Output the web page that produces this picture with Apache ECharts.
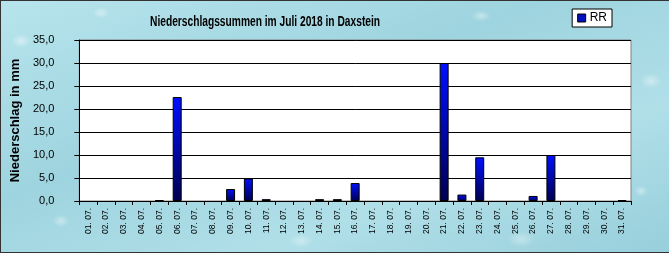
<!DOCTYPE html>
<html><head><meta charset="utf-8">
<script src="https://cdn.jsdelivr.net/npm/echarts@6/dist/echarts.min.js"></script>
<style>
html,body{margin:0;padding:0;}
#c{width:669px;height:253px;box-sizing:border-box;border-left:1px solid #333;border-top:1px solid #333;border-bottom:1px solid #333;
background-color:#a6d9e3;
background-image:
radial-gradient(ellipse 14px 10px at 20px 40px, rgba(255,255,255,0.45), rgba(255,255,255,0) 70%),
radial-gradient(ellipse 12px 9px at 60px 220px, rgba(255,255,255,0.4), rgba(255,255,255,0) 70%),
radial-gradient(ellipse 16px 11px at 650px 80px, rgba(255,255,255,0.4), rgba(255,255,255,0) 70%),
radial-gradient(ellipse 10px 8px at 640px 190px, rgba(255,255,255,0.4), rgba(255,255,255,0) 70%),
radial-gradient(ellipse 18px 10px at 300px 240px, rgba(255,255,255,0.35), rgba(255,255,255,0) 70%),
radial-gradient(ellipse 14px 8px at 480px 15px, rgba(255,255,255,0.4), rgba(255,255,255,0) 70%),
radial-gradient(ellipse 12px 8px at 100px 12px, rgba(255,255,255,0.4), rgba(255,255,255,0) 70%),
radial-gradient(ellipse 20px 12px at 520px 238px, rgba(255,255,255,0.35), rgba(255,255,255,0) 70%),
linear-gradient(160deg, #b7e4ec 0%, #9ed4df 40%, #b0dfe8 70%, #97cfdb 100%);
}
</style></head>
<body><div id="c"></div>
<script>
const categories = ["01. 07.","02. 07.","03. 07.","04. 07.","05. 07.","06. 07.","07. 07.","08. 07.","09. 07.","10. 07.","11. 07.","12. 07.","13. 07.","14. 07.","15. 07.","16. 07.","17. 07.","18. 07.","19. 07.","20. 07.","21. 07.","22. 07.","23. 07.","24. 07.","25. 07.","26. 07.","27. 07.","28. 07.","29. 07.","30. 07.","31. 07."];
const rr = [0,0,0,0,0.2,22.6,0,0,2.6,4.9,0.4,0,0,0.4,0.4,3.9,0,0,0,0,30.0,1.4,9.5,0,0,1.1,10.0,0,0,0,0.2];
const seriesName = "RR";
const titleText = "Niederschlagssummen im Juli 2018 in Daxstein";
const yAxisName = "Niederschlag in mm";

const chart = echarts.init(document.getElementById('c'), null, {renderer:'canvas'});
chart.setOption({
  backgroundColor: 'transparent',
  animation: false,
  graphic: [{
    type: 'text',
    left: 149, top: 14,
    scaleX: 0.73,
    originX: 149,
    style: {
      text: titleText,
      font: 'bold 14px "Liberation Sans", Arial',
      fill: '#000'
    }
  }],
  legend: {
    data: [seriesName],
    right: 57, top: 8,
    backgroundColor: '#fff', borderColor: '#000', borderWidth: 1, borderRadius: 0,
    padding: [3, 5, 3, 5],
    itemWidth: 8, itemHeight: 8, itemGap: 4,
    icon: 'rect',
    itemStyle: {color: '#0010c0', borderColor: '#000', borderWidth: 1},
    textStyle: {fontFamily: '"Liberation Sans", Arial', fontSize: 12, color: '#000', padding: [0,0,0,-1]}
  },
  grid: {
    left: 76, right: 38, top: 39, bottom: 51,
    show: true, backgroundColor: '#fff', borderColor: '#808080', borderWidth: 1
  },
  xAxis: {
    type: 'category',
    data: categories,
    boundaryGap: true,
    axisLine: {lineStyle: {color: '#000', width: 1}},
    axisTick: {show: true, alignWithLabel: false, length: 4, lineStyle: {color: '#000'}},
    axisLabel: {rotate: 90, interval: 0, fontSize: 8.5, color: '#000', fontFamily: '"Liberation Sans", Arial', margin: 7}
  },
  yAxis: {
    type: 'value',
    min: 0, max: 35, interval: 5,
    name: yAxisName,
    nameLocation: 'middle',
    nameGap: 55,
    nameTextStyle: {fontFamily: '"Liberation Sans", Arial', fontWeight: 'bold', fontSize: 13, color: '#000'},
    axisLine: {show: true, lineStyle: {color: '#000', width: 1}},
    axisTick: {show: true, length: 5, lineStyle: {color: '#000'}},
    axisLabel: {fontSize: 11, color: '#000', fontFamily: '"Liberation Sans", Arial', margin: 25,
      formatter: v => v.toFixed(1).replace('.', ',')},
    splitLine: {show: true, lineStyle: {color: '#000', width: 1}}
  },
  series: [{
    name: seriesName,
    type: 'bar',
    data: rr.map(v => v === 0 ? '-' : v),
    barWidth: 9,
    itemStyle: {
      color: new echarts.graphic.LinearGradient(0, 0, 0, 1, [
        {offset: 0, color: '#0010ff'},
        {offset: 1, color: '#000050'}
      ]),
      borderColor: '#000', borderWidth: 1
    }
  }]
});
</script></body></html>
